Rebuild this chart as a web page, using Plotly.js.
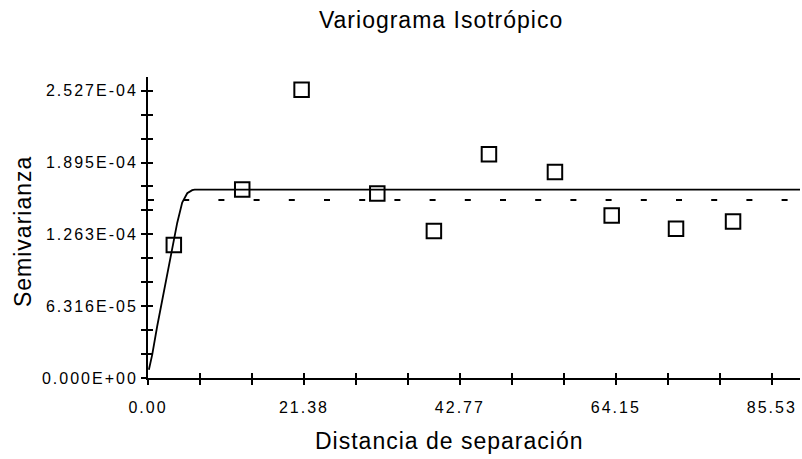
<!DOCTYPE html>
<html>
<head>
<meta charset="utf-8">
<script src="https://cdn.plot.ly/plotly-3.0.1.min.js"></script>
<style>
  html, body { margin: 0; padding: 0; background: #fff; }
  #chart { width: 802px; height: 459px; }
  .xtick text, .ytick text { letter-spacing: 2px; }
  .gtitle, .annotation-text { letter-spacing: 1px; }
</style>
</head>
<body>
<div id="chart"></div>
<script>
// Experimental variogram (lag distance vs semivariance)
const lagDistance = [3.54, 12.92, 21.06, 31.44, 39.20, 46.75, 55.80, 63.58, 72.40, 80.22];
const semivariance = [1.169e-4, 1.657e-4, 2.535e-4, 1.622e-4, 1.292e-4, 1.968e-4, 1.812e-4, 1.430e-4, 1.313e-4, 1.377e-4];

// Fitted model curve
const modelDistance = [0.12, 0.58, 1.26, 1.95, 2.63, 3.32, 4.01, 4.69, 5.38, 6.06, 6.4, 89.4];
const modelSemivariance = [7.3e-6, 2.05e-5, 4.55e-5, 6.9e-5, 9.25e-5, 1.131e-4, 1.366e-4, 1.542e-4, 1.625e-4, 1.652e-4, 1.657e-4, 1.657e-4];

// Sample variance (dashed reference line)
const sampleVarianceDistance = [0, 89.4];
const sampleVariance = [1.565e-4, 1.565e-4];

// Axis ticks
const xTickVals = [0, 7.1275, 14.255, 21.3825, 28.51, 35.6375, 42.765, 49.8925, 57.02, 64.1475, 71.275, 78.4025, 85.53];
const xTickLabels = ["0.00", "", "", "21.38", "", "", "42.77", "", "", "64.15", "", "", "85.53"];
const yTickVals = [0, 2.1053e-5, 4.2107e-5, 6.316e-5, 8.4213e-5, 1.05267e-4, 1.2632e-4, 1.47373e-4, 1.68427e-4, 1.8948e-4, 2.10533e-4, 2.31587e-4, 2.5264e-4];
const yTickLabels = ["0.000E+00", "", "", "6.316E-05", "", "", "1.263E-04", "", "", "1.895E-04", "", "", "2.527E-04"];

const xRange = [0, 89.4];
const yRange = [0, 2.647e-4];

const font = 'Liberation Sans, Arial, sans-serif';

const traces = [
  {
    x: sampleVarianceDistance, y: sampleVariance,
    type: 'scatter', mode: 'lines',
    line: { color: '#000', width: 2, dash: '6px,29.2px' },
    hoverinfo: 'skip'
  },
  {
    x: modelDistance, y: modelSemivariance,
    type: 'scatter', mode: 'lines',
    line: { color: '#000', width: 1.8 },
    hoverinfo: 'skip'
  },
  {
    x: lagDistance, y: semivariance,
    type: 'scatter', mode: 'markers',
    marker: { symbol: 'square-open', size: 14.5, color: '#000', line: { color: '#000', width: 2 } },
    hoverinfo: 'skip'
  },
  {
    // carrier for the overlay axes that draw the inner half of each tick
    x: [], y: [], xaxis: 'x2', yaxis: 'y2',
    type: 'scatter', mode: 'markers', hoverinfo: 'skip'
  }
];

const baseX = {
  range: xRange, showgrid: false, zeroline: false,
  tickmode: 'array', tickvals: xTickVals, ticktext: xTickLabels,
  ticklen: 5, tickwidth: 2, tickcolor: '#000'
};
const baseY = {
  range: yRange, showgrid: false, zeroline: false,
  tickmode: 'array', tickvals: yTickVals, ticktext: yTickLabels,
  ticklen: 5, tickwidth: 2, tickcolor: '#000'
};

const layout = {
  width: 802, height: 459,
  margin: { l: 148, r: 2, t: 77, b: 81, pad: 0 },
  paper_bgcolor: '#fff', plot_bgcolor: '#fff',
  showlegend: false,
  font: { family: font, color: '#000' },
  title: {
    text: 'Variograma Isotrópico',
    font: { family: font, size: 23, color: '#000' },
    x: 0.55, xref: 'container', xanchor: 'center',
    y: 0.956, yref: 'container', yanchor: 'middle'
  },
  xaxis: Object.assign({}, baseX, {
    ticks: 'outside', showline: true, linecolor: '#000', linewidth: 2,
    tickfont: { family: font, size: 16, color: '#000' },
    ticklabelstandoff: 9,
    anchor: 'y'
  }),
  yaxis: Object.assign({}, baseY, {
    ticks: 'outside', showline: true, linecolor: '#000', linewidth: 2,
    tickfont: { family: font, size: 16, color: '#000' },
    anchor: 'x'
  }),
  xaxis2: Object.assign({}, baseX, {
    ticks: 'inside', showline: false, showticklabels: false,
    overlaying: 'x', anchor: 'y2', side: 'bottom'
  }),
  yaxis2: Object.assign({}, baseY, {
    ticks: 'inside', showline: false, showticklabels: false,
    overlaying: 'y', anchor: 'x2', side: 'left'
  }),
  annotations: [
    {
      text: 'Distancia de separación',
      xref: 'paper', yref: 'paper',
      x: 0.4617, y: -0.209, xanchor: 'center', yanchor: 'middle',
      showarrow: false,
      font: { family: font, size: 23, color: '#000' }
    },
    {
      text: 'Semivarianza',
      xref: 'paper', yref: 'paper',
      x: -0.1917, y: 0.485, xanchor: 'center', yanchor: 'middle',
      textangle: -90, showarrow: false,
      font: { family: font, size: 23, color: '#000' }
    }
  ]
};

Plotly.newPlot('chart', traces, layout, { staticPlot: true, displayModeBar: false });
</script>
</body>
</html>
